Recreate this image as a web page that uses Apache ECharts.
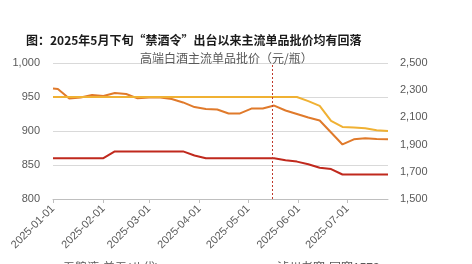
<!DOCTYPE html>
<html><head><meta charset="utf-8">
<script src="https://cdn.jsdelivr.net/npm/echarts@6/dist/echarts.min.js"></script>
<style>html,body{margin:0;padding:0;background:#fff}#c{width:472px;height:264px}</style>
</head><body><div id="c"></div>
<script>
const startDate = '2025-01-01';
const endDate = '2025-07-26';
const dates = ['2025-01-01','2025-01-04','2025-01-11','2025-01-18','2025-01-25','2025-02-01','2025-02-08','2025-02-15','2025-02-22','2025-03-01','2025-03-08','2025-03-15','2025-03-22','2025-03-29','2025-04-05','2025-04-12','2025-04-19','2025-04-26','2025-05-03','2025-05-10','2025-05-17','2025-05-24','2025-05-31','2025-06-07','2025-06-14','2025-06-21','2025-06-28','2025-07-05','2025-07-12','2025-07-19','2025-07-26'];
const wuliangye = [950,950,950,950,950,950,950,950,950,950,950,950,950,950,950,950,950,950,950,950,950,950,950,944,937,915,906,905,904,901,900];
const guojiao = [860,860,860,860,860,860,870,870,870,870,870,870,870,864,860,860,860,860,860,860,860,857,855,851,846,844,836,836,836,836,836];
const moutai = [2312,2309,2239,2246,2265,2257,2279,2272,2240,2246,2246,2235,2210,2176,2162,2158,2129,2129,2165,2165,2187,2151,2125,2099,2077,1989,1901,1939,1946,1941,1939];
const banDate = '2025-05-16';
const monthTicks = ['2025-01-01','2025-02-01','2025-03-01','2025-04-01','2025-05-01','2025-06-01','2025-07-01'];
const names = ['五粮液-普五(八代)','泸州老窖-国窖1573','贵州茅台-飞天(原箱)'];
const titleText = '图：2025年5月下旬“禁酒令”出台以来主流单品批价均有回落';
const subText = '高端白酒主流单品批价（元/瓶）';

function fmt(d){const m=d.getUTCMonth()+1,dd=d.getUTCDate();return d.getUTCFullYear()+'-'+(m<10?'0':'')+m+'-'+(dd<10?'0':'')+dd;}
const days=[];
for(let t=Date.parse(startDate+'T00:00:00Z');t<=Date.parse(endDate+'T00:00:00Z');t+=86400000){days.push(fmt(new Date(t)));}
const pair = arr => dates.map((d,i)=>[d,arr[i]]);
const F = "'Liberation Sans','Noto Sans CJK SC',sans-serif";
const chart = echarts.init(document.getElementById('c'));
chart.setOption({
  animation:false,
  backgroundColor:'#fff',
  title:[
    {text:titleText,left:21,top:29,textStyle:{fontFamily:"'Noto Sans CJK SC',sans-serif",fontSize:12,fontWeight:'bold',color:'#1a1a1a'}},
    {text:subText,left:135,top:47,textStyle:{fontFamily:"'Noto Sans CJK SC',sans-serif",fontSize:12,fontWeight:'normal',color:'#595959'}}
  ],
  grid:{left:53,right:84,top:63,bottom:65,containLabel:false},
  legend:[
    {data:[names[0]],left:33,top:258,icon:'rect',itemWidth:20,itemHeight:3,textStyle:{fontFamily:F,fontSize:12,color:'#595959'}},
    {data:[names[1]],left:247,top:258,icon:'rect',itemWidth:20,itemHeight:3,textStyle:{fontFamily:F,fontSize:12,color:'#595959'}}
  ],
  xAxis:{type:'category',data:days,boundaryGap:false,
    axisLine:{lineStyle:{color:'#bfbfbf'}},
    axisTick:{show:true,interval:(i,v)=>monthTicks.indexOf(v)>=0,length:4,lineStyle:{color:'#bfbfbf'}},
    axisLabel:{interval:(i,v)=>monthTicks.indexOf(v)>=0,rotate:45,fontFamily:F,fontSize:11,color:'#595959',margin:8},
    splitLine:{show:false}},
  yAxis:[
    {type:'value',min:800,max:1000,interval:50,
     axisLine:{show:false},axisTick:{show:false},
     axisLabel:{formatter:v=>v.toLocaleString('en-US'),fontFamily:F,fontSize:11,color:'#595959',margin:13},
     splitLine:{lineStyle:{color:'#d9d9d9'}}},
    {type:'value',min:1500,max:2500,interval:200,position:'right',
     axisLine:{show:false},axisTick:{show:false},
     axisLabel:{formatter:v=>v.toLocaleString('en-US'),fontFamily:F,fontSize:11,color:'#595959',margin:12},
     splitLine:{show:false}}
  ],
  series:[
    {name:names[2],type:'line',yAxisIndex:1,data:pair(moutai),symbol:'none',lineStyle:{color:'#E07A2B',width:2},itemStyle:{color:'#E07A2B'},
     markLine:{silent:true,symbol:'none',label:{show:false},lineStyle:{color:'#C0392B',type:[2,2],width:1},data:[{xAxis:banDate}]}},
    {name:names[0],type:'line',yAxisIndex:0,data:pair(wuliangye),symbol:'none',lineStyle:{color:'#F0B133',width:2},itemStyle:{color:'#F0B133'}},
    {name:names[1],type:'line',yAxisIndex:0,data:pair(guojiao),symbol:'none',lineStyle:{color:'#C0291D',width:2},itemStyle:{color:'#C0291D'}}
  ]
});
</script></body></html>
